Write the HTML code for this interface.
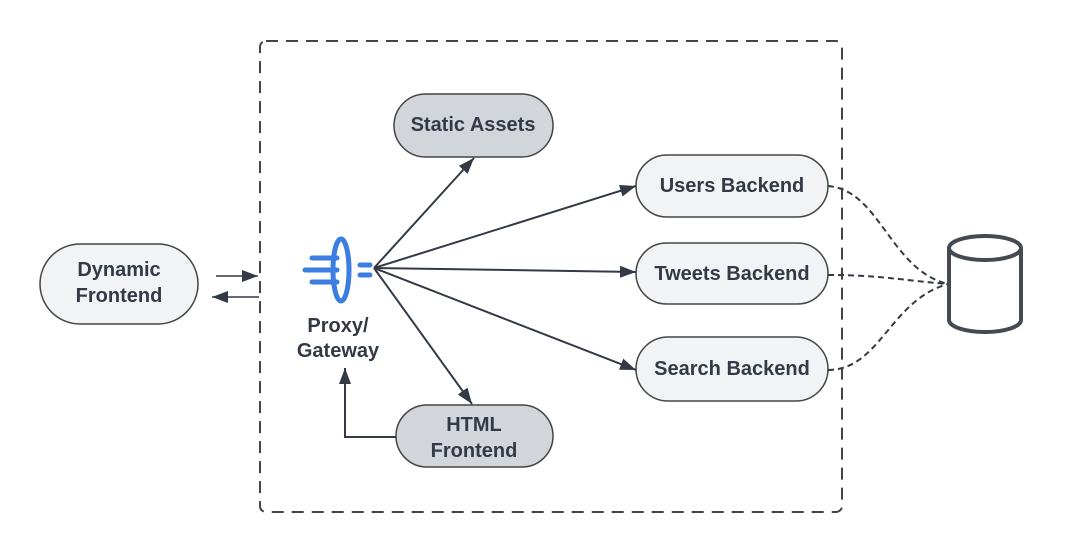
<!DOCTYPE html>
<html><head><style>body{margin:0;background:#fff}svg{display:block}text{font-family:"Liberation Sans",sans-serif;font-weight:bold;fill:#333a45;font-size:20px}</style></head><body>
<svg width="1065" height="552" viewBox="0 0 1065 552">
<defs><marker id="b" markerWidth="18" markerHeight="12" refX="16" refY="6" orient="auto" markerUnits="userSpaceOnUse"><path d="M0,0 L16,6 L0,12 z" fill="#333a45"/></marker></defs>
<rect x="260" y="41" width="582" height="471" rx="6" fill="none" stroke="#444" stroke-width="2" stroke-dasharray="12,8"/>
<g stroke="#444" stroke-width="1.5">
<rect x="40" y="244" width="158" height="80" rx="40" fill="#f2f3f5"/>
<rect x="394" y="94" width="159" height="63" rx="31.5" fill="#d2d5da"/>
<rect x="396" y="405" width="157" height="62" rx="31" fill="#d2d5da"/>
<rect x="636" y="155" width="192" height="62" rx="31" fill="#f2f3f5"/>
<rect x="636" y="243" width="192" height="61" rx="30.5" fill="#f2f3f5"/>
<rect x="636" y="337" width="192" height="64" rx="32" fill="#f2f3f5"/>
</g>
<text x="119" y="276" text-anchor="middle">Dynamic</text><text x="119" y="302" text-anchor="middle">Frontend</text>
<text x="473" y="131" text-anchor="middle">Static Assets</text>
<text x="474" y="431" text-anchor="middle">HTML</text><text x="474" y="457" text-anchor="middle">Frontend</text>
<text x="732" y="192" text-anchor="middle">Users Backend</text>
<text x="732" y="280" text-anchor="middle">Tweets Backend</text>
<text x="732" y="375" text-anchor="middle">Search Backend</text>
<text x="338" y="332" text-anchor="middle">Proxy/</text><text x="338" y="357" text-anchor="middle">Gateway</text>
<g stroke="#333a45" stroke-width="2" fill="none">
<line x1="374" y1="268" x2="474" y2="158" marker-end="url(#b)"/>
<line x1="374" y1="268" x2="636" y2="186" marker-end="url(#b)"/>
<line x1="374" y1="268" x2="636" y2="272" marker-end="url(#b)"/>
<line x1="374" y1="268" x2="636" y2="370" marker-end="url(#b)"/>
<line x1="374" y1="268" x2="472" y2="404" marker-end="url(#b)"/>
<path d="M396,437 H345 V368" marker-end="url(#b)"/>
<line x1="216" y1="276" x2="258" y2="276" stroke-width="1.5" marker-end="url(#b)"/>
<line x1="259" y1="297" x2="212" y2="297" stroke-width="1.5" marker-end="url(#b)"/>
</g>
<g stroke="#333a45" stroke-width="2" fill="none" stroke-dasharray="6,4">
<path d="M828,186 C880,190 890,270 948,284"/>
<path d="M828,275 C880,275 900,280 948,284"/>
<path d="M828,370 C880,370 890,300 948,284"/>
</g>
<g stroke="#444a52" stroke-width="4" fill="#fff">
<path d="M949,248 V320 A36,12 0 0 0 1021,320 V248"/>
<ellipse cx="985" cy="248" rx="36" ry="12"/>
</g>
<g stroke="#3b7de0" stroke-linecap="round" fill="none">
<ellipse cx="341" cy="270" rx="8" ry="31" stroke-width="5"/>
<g stroke-width="5"><line x1="312" y1="258" x2="337" y2="258"/><line x1="305" y1="270" x2="337" y2="270"/><line x1="312" y1="282" x2="337" y2="282"/>
<line x1="360" y1="265" x2="370" y2="265"/><line x1="360" y1="275" x2="370" y2="275"/></g>
</g>
</svg>
</body></html>
